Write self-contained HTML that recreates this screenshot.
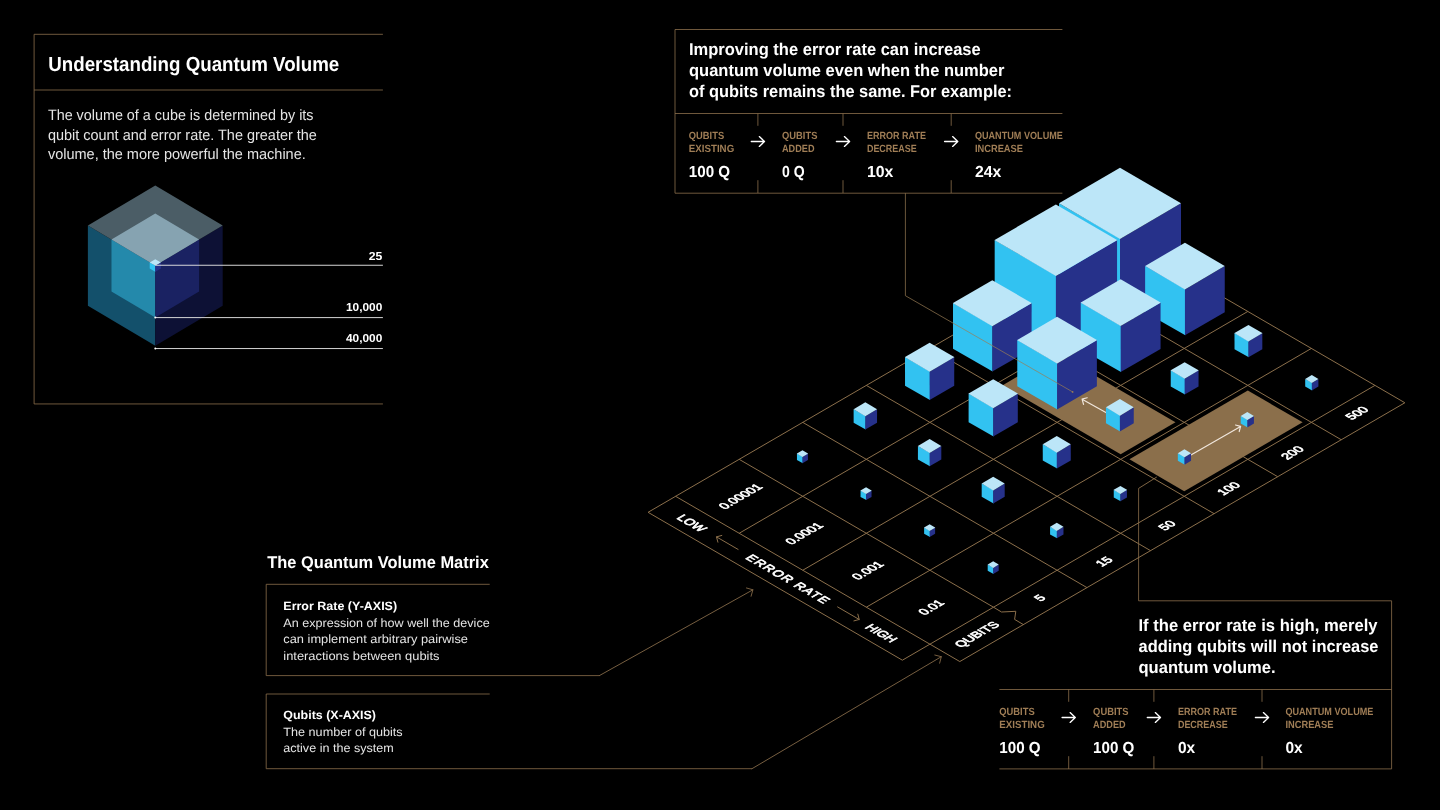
<!DOCTYPE html>
<html lang="en"><head><meta charset="utf-8"><title>Understanding Quantum Volume</title>
<style>
html,body{margin:0;padding:0;background:#000;}
body{width:1440px;height:810px;overflow:hidden;font-family:"Liberation Sans",sans-serif;}
svg{display:block;font-family:"Liberation Sans",sans-serif;}
</style></head><body>
<svg width="1440" height="810" viewBox="0 0 1440 810" text-rendering="geometricPrecision">
<rect width="1440" height="810" fill="#000"/>
<g id="panels">
<polyline points="382.9,34.3 34.1,34.3 34.1,403.95 382.9,403.95" fill="none" stroke="#8b6f4b" stroke-width="0.8"/>
<line x1="34.1" y1="90" x2="382.9" y2="90" stroke="#8b6f4b" stroke-width="0.8"/>
<text x="48.3" y="70.7" font-size="20.4" font-weight="bold" fill="#fff" textLength="291" lengthAdjust="spacingAndGlyphs">Understanding Quantum Volume</text>
<text x="47.9" y="120.3" font-size="15" fill="#e4e4e4" textLength="265.6" lengthAdjust="spacingAndGlyphs">The volume of a cube is determined by its</text>
<text x="47.9" y="139.7" font-size="15" fill="#e4e4e4" textLength="269" lengthAdjust="spacingAndGlyphs">qubit count and error rate. The greater the</text>
<text x="47.9" y="159.1" font-size="15" fill="#e4e4e4" textLength="257.9" lengthAdjust="spacingAndGlyphs">volume, the more powerful the machine.</text>
</g>
<g id="legend">
<polygon points="155.3,345.8 87.9,305.7 87.9,225.5 155.3,265.6" fill="#13506b"/>
<polygon points="155.3,345.8 222.7,305.7 222.7,225.5 155.3,265.6" fill="#0d1135"/>
<polygon points="155.3,265.6 87.9,225.5 155.3,185.4 222.7,225.5" fill="#4b5d66"/>
<polygon points="155.3,317.6 111.5,291.6 111.5,239.6 155.3,265.6" fill="#2489ab"/>
<polygon points="155.3,317.6 199.1,291.6 199.1,239.6 155.3,265.6" fill="#1a2262"/>
<polygon points="155.3,265.6 111.5,239.6 155.3,213.6 199.1,239.6" fill="#86a3b1"/>
<polygon points="155.3,271.7 149.7,268.6 149.7,262.4 155.3,265.5" fill="#32c2f1"/>
<polygon points="155.3,271.7 160.9,268.6 160.9,262.4 155.3,265.5" fill="#26318a"/>
<polygon points="155.3,265.5 149.7,262.4 155.3,259.3 160.9,262.4" fill="#bce6f8"/>
<line x1="155.3" y1="265.25" x2="382.9" y2="265.25" stroke="#e0e0e0" stroke-width="0.95"/>
<line x1="155.3" y1="317.6" x2="382.9" y2="317.6" stroke="#e0e0e0" stroke-width="0.95"/>
<line x1="155.3" y1="348.55" x2="382.9" y2="348.55" stroke="#e0e0e0" stroke-width="0.95"/>
<circle cx="155.3" cy="317.6" r="1" fill="#fff"/>
<circle cx="155.3" cy="348.6" r="1" fill="#fff"/>
<text x="368.7" y="259.6" font-size="11.5" font-weight="bold" fill="#fff" textLength="13.6" lengthAdjust="spacingAndGlyphs">25</text>
<text x="346" y="311" font-size="11.5" font-weight="bold" fill="#fff" textLength="36.3" lengthAdjust="spacingAndGlyphs">10,000</text>
<text x="346" y="342" font-size="11.5" font-weight="bold" fill="#fff" textLength="36.3" lengthAdjust="spacingAndGlyphs">40,000</text>
</g>
<g id="panels2">
<polyline points="1062.4,29.5 675,29.5 675,193.2 1062.4,193.2" fill="none" stroke="#8b6f4b" stroke-width="0.8"/>
<line x1="675" y1="113.5" x2="1062.4" y2="113.5" stroke="#8b6f4b" stroke-width="0.8"/>
<text x="689" y="55.4" font-size="17" font-weight="bold" fill="#fff" textLength="291.7" lengthAdjust="spacingAndGlyphs">Improving the error rate can increase</text>
<text x="689" y="76.1" font-size="17" font-weight="bold" fill="#fff" textLength="315.4" lengthAdjust="spacingAndGlyphs">quantum volume even when the number</text>
<text x="689" y="96.8" font-size="17" font-weight="bold" fill="#fff" textLength="323" lengthAdjust="spacingAndGlyphs">of qubits remains the same. For example:</text>
<line x1="757.9" y1="113.5" x2="757.9" y2="125.8" stroke="#8b6f4b" stroke-width="0.8"/>
<line x1="757.9" y1="180.2" x2="757.9" y2="193" stroke="#8b6f4b" stroke-width="0.8"/>
<path d="M751.3 141.5H764.5M759.3 136.6L764.5 141.5L759.3 146.4" fill="none" stroke="#fff" stroke-width="1.35" stroke-linecap="round" stroke-linejoin="round"/>
<line x1="843" y1="113.5" x2="843" y2="125.8" stroke="#8b6f4b" stroke-width="0.8"/>
<line x1="843" y1="180.2" x2="843" y2="193" stroke="#8b6f4b" stroke-width="0.8"/>
<path d="M836.4 141.5H849.6M844.4 136.6L849.6 141.5L844.4 146.4" fill="none" stroke="#fff" stroke-width="1.35" stroke-linecap="round" stroke-linejoin="round"/>
<line x1="951.2" y1="113.5" x2="951.2" y2="125.8" stroke="#8b6f4b" stroke-width="0.8"/>
<line x1="951.2" y1="180.2" x2="951.2" y2="193" stroke="#8b6f4b" stroke-width="0.8"/>
<path d="M944.6 141.5H957.8M952.6 136.6L957.8 141.5L952.6 146.4" fill="none" stroke="#fff" stroke-width="1.35" stroke-linecap="round" stroke-linejoin="round"/>
<text x="688.8" y="139" font-size="10.4" font-weight="bold" fill="#a07e56" textLength="35.4" lengthAdjust="spacingAndGlyphs">QUBITS</text>
<text x="688.8" y="152" font-size="10.4" font-weight="bold" fill="#a07e56" textLength="45.4" lengthAdjust="spacingAndGlyphs">EXISTING</text>
<text x="688.8" y="176.9" font-size="16" font-weight="bold" fill="#fff" textLength="41.3" lengthAdjust="spacingAndGlyphs">100 Q</text>
<text x="782" y="139" font-size="10.4" font-weight="bold" fill="#a07e56" textLength="35.4" lengthAdjust="spacingAndGlyphs">QUBITS</text>
<text x="782" y="152" font-size="10.4" font-weight="bold" fill="#a07e56" textLength="32.5" lengthAdjust="spacingAndGlyphs">ADDED</text>
<text x="782" y="176.9" font-size="16" font-weight="bold" fill="#fff" textLength="22.6" lengthAdjust="spacingAndGlyphs">0 Q</text>
<text x="866.9" y="139" font-size="10.4" font-weight="bold" fill="#a07e56" textLength="59.1" lengthAdjust="spacingAndGlyphs">ERROR RATE</text>
<text x="866.9" y="152" font-size="10.4" font-weight="bold" fill="#a07e56" textLength="49.9" lengthAdjust="spacingAndGlyphs">DECREASE</text>
<text x="866.9" y="176.9" font-size="16" font-weight="bold" fill="#fff" textLength="26.4" lengthAdjust="spacingAndGlyphs">10x</text>
<text x="974.9" y="139" font-size="10.4" font-weight="bold" fill="#a07e56" textLength="88" lengthAdjust="spacingAndGlyphs">QUANTUM VOLUME</text>
<text x="974.9" y="152" font-size="10.4" font-weight="bold" fill="#a07e56" textLength="48.1" lengthAdjust="spacingAndGlyphs">INCREASE</text>
<text x="974.9" y="176.9" font-size="16" font-weight="bold" fill="#fff" textLength="26.4" lengthAdjust="spacingAndGlyphs">24x</text>
<polyline points="1138.6,488.4 1138.6,600.8 1391.6,600.8 1391.6,768.9 999.4,768.9" fill="none" stroke="#8b6f4b" stroke-width="0.8"/>
<line x1="1138.6" y1="488.4" x2="1156.8" y2="477" stroke="#8b6f4b" stroke-width="0.9"/>
<line x1="999.4" y1="689.5" x2="1391.6" y2="689.5" stroke="#8b6f4b" stroke-width="0.8"/>
<text x="1138.5" y="630.7" font-size="17" font-weight="bold" fill="#fff" textLength="239" lengthAdjust="spacingAndGlyphs">If the error rate is high, merely</text>
<text x="1138.5" y="651.7" font-size="17" font-weight="bold" fill="#fff" textLength="240" lengthAdjust="spacingAndGlyphs">adding qubits will not increase</text>
<text x="1138.5" y="672.7" font-size="17" font-weight="bold" fill="#fff" textLength="137.1" lengthAdjust="spacingAndGlyphs">quantum volume.</text>
<line x1="1068.7" y1="689.5" x2="1068.7" y2="701.8" stroke="#8b6f4b" stroke-width="0.8"/>
<line x1="1068.7" y1="756.2" x2="1068.7" y2="769" stroke="#8b6f4b" stroke-width="0.8"/>
<path d="M1062.1 717.5H1075.3M1070.1 712.6L1075.3 717.5L1070.1 722.4" fill="none" stroke="#fff" stroke-width="1.35" stroke-linecap="round" stroke-linejoin="round"/>
<line x1="1153.9" y1="689.5" x2="1153.9" y2="701.8" stroke="#8b6f4b" stroke-width="0.8"/>
<line x1="1153.9" y1="756.2" x2="1153.9" y2="769" stroke="#8b6f4b" stroke-width="0.8"/>
<path d="M1147.3 717.5H1160.5M1155.3 712.6L1160.5 717.5L1155.3 722.4" fill="none" stroke="#fff" stroke-width="1.35" stroke-linecap="round" stroke-linejoin="round"/>
<line x1="1262" y1="689.5" x2="1262" y2="701.8" stroke="#8b6f4b" stroke-width="0.8"/>
<line x1="1262" y1="756.2" x2="1262" y2="769" stroke="#8b6f4b" stroke-width="0.8"/>
<path d="M1255.4 717.5H1268.6M1263.4 712.6L1268.6 717.5L1263.4 722.4" fill="none" stroke="#fff" stroke-width="1.35" stroke-linecap="round" stroke-linejoin="round"/>
<text x="999.3" y="715" font-size="10.4" font-weight="bold" fill="#a07e56" textLength="35.4" lengthAdjust="spacingAndGlyphs">QUBITS</text>
<text x="999.3" y="728" font-size="10.4" font-weight="bold" fill="#a07e56" textLength="45.4" lengthAdjust="spacingAndGlyphs">EXISTING</text>
<text x="999.3" y="752.9" font-size="16" font-weight="bold" fill="#fff" textLength="41.3" lengthAdjust="spacingAndGlyphs">100 Q</text>
<text x="1093.1" y="715" font-size="10.4" font-weight="bold" fill="#a07e56" textLength="35.4" lengthAdjust="spacingAndGlyphs">QUBITS</text>
<text x="1093.1" y="728" font-size="10.4" font-weight="bold" fill="#a07e56" textLength="32.5" lengthAdjust="spacingAndGlyphs">ADDED</text>
<text x="1093.1" y="752.9" font-size="16" font-weight="bold" fill="#fff" textLength="41.3" lengthAdjust="spacingAndGlyphs">100 Q</text>
<text x="1177.9" y="715" font-size="10.4" font-weight="bold" fill="#a07e56" textLength="59.1" lengthAdjust="spacingAndGlyphs">ERROR RATE</text>
<text x="1177.9" y="728" font-size="10.4" font-weight="bold" fill="#a07e56" textLength="49.9" lengthAdjust="spacingAndGlyphs">DECREASE</text>
<text x="1177.9" y="752.9" font-size="16" font-weight="bold" fill="#fff" textLength="17.2" lengthAdjust="spacingAndGlyphs">0x</text>
<text x="1285.4" y="715" font-size="10.4" font-weight="bold" fill="#a07e56" textLength="88" lengthAdjust="spacingAndGlyphs">QUANTUM VOLUME</text>
<text x="1285.4" y="728" font-size="10.4" font-weight="bold" fill="#a07e56" textLength="48.1" lengthAdjust="spacingAndGlyphs">INCREASE</text>
<text x="1285.4" y="752.9" font-size="16" font-weight="bold" fill="#fff" textLength="17.2" lengthAdjust="spacingAndGlyphs">0x</text>
<text x="267.3" y="568" font-size="17" font-weight="bold" fill="#fff" textLength="221.5" lengthAdjust="spacingAndGlyphs">The Quantum Volume Matrix</text>
<polyline points="489.7,584.3 266.2,584.3 266.2,675.6 599.4,675.6" fill="none" stroke="#8b6f4b" stroke-width="0.8"/>
<polyline points="489.7,694 266.2,694 266.2,768.7 752,768.7" fill="none" stroke="#8b6f4b" stroke-width="0.8"/>
<g stroke-linecap="round" stroke-linejoin="round">
<path d="M599.4 675.6L752.9 589.8M746.45 587.98L752.9 589.8L751.08 596.25" fill="none" stroke="#8b6f4b" stroke-width="0.85"/>
<path d="M752 768.7L941.3 656.7M934.81 655.04L941.3 656.7L939.64 663.19" fill="none" stroke="#8b6f4b" stroke-width="0.85"/>
</g>
<text x="283.3" y="609.5" font-size="12" font-weight="bold" fill="#fff" textLength="113.8" lengthAdjust="spacingAndGlyphs">Error Rate (Y-AXIS)</text>
<text x="283.3" y="626.6" font-size="12" fill="#e4e4e4" textLength="206.4" lengthAdjust="spacingAndGlyphs">An expression of how well the device</text>
<text x="283.3" y="643.3" font-size="12" fill="#e4e4e4" textLength="184.7" lengthAdjust="spacingAndGlyphs">can implement arbitrary pairwise</text>
<text x="283.3" y="660" font-size="12" fill="#e4e4e4" textLength="156.2" lengthAdjust="spacingAndGlyphs">interactions between qubits</text>
<text x="283.3" y="718.8" font-size="12" font-weight="bold" fill="#fff" textLength="92.7" lengthAdjust="spacingAndGlyphs">Qubits (X-AXIS)</text>
<text x="283.3" y="735.6" font-size="12" fill="#e4e4e4" textLength="119.4" lengthAdjust="spacingAndGlyphs">The number of qubits</text>
<text x="283.3" y="752.2" font-size="12" fill="#e4e4e4" textLength="110.4" lengthAdjust="spacingAndGlyphs">active in the system</text>
</g>
<g id="grid">
<line x1="648.07" y1="512.31" x2="1120.66" y2="237.51" stroke="#8b6f4b" stroke-width="1.0"/>
<line x1="739.18" y1="533.27" x2="1184.24" y2="274.48" stroke="#8b6f4b" stroke-width="1.0"/>
<line x1="802.76" y1="570.24" x2="1247.82" y2="311.45" stroke="#8b6f4b" stroke-width="1.0"/>
<line x1="866.34" y1="607.21" x2="1311.4" y2="348.42" stroke="#8b6f4b" stroke-width="1.0"/>
<line x1="902.39" y1="660.19" x2="1374.98" y2="385.39" stroke="#8b6f4b" stroke-width="1.0"/>
<line x1="959.8" y1="661.56" x2="1404.86" y2="402.77" stroke="#8b6f4b" stroke-width="1.0"/>
<line x1="648.07" y1="512.31" x2="902.39" y2="660.19" stroke="#8b6f4b" stroke-width="1.0"/>
<line x1="675.6" y1="496.3" x2="959.8" y2="661.56" stroke="#8b6f4b" stroke-width="1.0"/>
<line x1="739.18" y1="459.33" x2="993.5" y2="607.21" stroke="#8b6f4b" stroke-width="1.0"/>
<line x1="802.76" y1="422.36" x2="1086.96" y2="587.62" stroke="#8b6f4b" stroke-width="1.0"/>
<line x1="866.34" y1="385.39" x2="1150.54" y2="550.65" stroke="#8b6f4b" stroke-width="1.0"/>
<line x1="929.92" y1="348.42" x2="1214.12" y2="513.68" stroke="#8b6f4b" stroke-width="1.0"/>
<line x1="993.5" y1="311.45" x2="1277.7" y2="476.71" stroke="#8b6f4b" stroke-width="1.0"/>
<line x1="1057.08" y1="274.48" x2="1341.28" y2="439.74" stroke="#8b6f4b" stroke-width="1.0"/>
<line x1="1120.66" y1="237.51" x2="1404.86" y2="402.77" stroke="#8b6f4b" stroke-width="1.0"/>
<polyline points="993.5,607.21 1001.5,612 1015.8,611.3 1014.6,619.4 1023.38,624.59" fill="none" stroke="#8b6f4b" stroke-width="1.0"/>
<polygon points="1002.27,385.39 1057.08,353.52 1175.47,422.36 1120.66,454.23" fill="#8b6f4b"/>
<polygon points="1129.43,459.33 1247.82,390.49 1302.63,422.36 1184.24,491.2" fill="#8b6f4b"/>
</g>
<g id="arrows2" stroke-linecap="round" stroke-linejoin="round">
<path d="M1105.9 412.6L1082.1 399.2M1083.53 404.3L1082.1 399.2L1087.2 397.77" fill="none" stroke="#f0e6dc" stroke-width="1.2"/>
<path d="M1190.9 455L1240.6 426.4M1235.48 425.02L1240.6 426.4L1239.22 431.52" fill="none" stroke="#f0e6dc" stroke-width="1.2"/>
</g>
<g id="cubes">
<polygon points="1120.35,309.55 1059,274.08 1059,203.14 1120.35,238.61" fill="#32c2f1"/>
<polygon points="1120,309.55 1181,274.08 1181,203.14 1120,238.96" fill="#26318a"/>
<polygon points="1120,238.96 1059,203.32 1059,203.14 1120,167.67 1181,203.14 1181,203.32" fill="#bce6f8"/>
<polygon points="1056.23,346.74 994.68,311.15 994.68,239.98 1056.23,275.56" fill="#32c2f1"/>
<polygon points="1055.88,346.74 1117.08,311.15 1117.08,239.98 1055.88,275.91" fill="#26318a"/>
<polygon points="1055.88,275.91 994.68,240.15 994.68,239.98 1055.88,204.39 1117.08,239.98 1117.08,240.15" fill="#bce6f8"/>
<polygon points="1185.29,335.34 1145.14,312.2 1145.14,265.91 1185.29,289.06" fill="#32c2f1"/>
<polygon points="1184.94,335.34 1224.74,312.2 1224.74,265.91 1184.94,289.41" fill="#26318a"/>
<polygon points="1184.94,289.41 1145.14,266.09 1145.14,265.91 1184.94,242.77 1224.74,265.91 1224.74,266.09" fill="#bce6f8"/>
<polygon points="992.65,371.57 953,348.72 953,303.02 992.65,325.87" fill="#32c2f1"/>
<polygon points="992.3,371.57 1031.6,348.72 1031.6,303.02 992.3,326.22" fill="#26318a"/>
<polygon points="992.3,326.22 953,303.19 953,303.02 992.3,280.16 1031.6,303.02 1031.6,303.19" fill="#bce6f8"/>
<polygon points="1121.01,372.12 1080.76,348.92 1080.76,302.52 1121.01,325.72" fill="#32c2f1"/>
<polygon points="1120.66,372.12 1160.56,348.92 1160.56,302.52 1120.66,326.07" fill="#26318a"/>
<polygon points="1120.66,326.07 1080.76,302.69 1080.76,302.52 1120.66,279.32 1160.56,302.52 1160.56,302.69" fill="#bce6f8"/>
<polygon points="1248.77,357.25 1234.52,349.17 1234.52,333.01 1248.77,341.09" fill="#32c2f1"/>
<polygon points="1248.42,357.25 1262.32,349.17 1262.32,333.01 1248.42,341.44" fill="#26318a"/>
<polygon points="1248.42,341.44 1234.52,333.18 1234.52,333.01 1248.42,324.92 1262.32,333.01 1262.32,333.18" fill="#bce6f8"/>
<polygon points="929.97,399.99 905.02,385.69 905.02,357.08 929.97,371.39" fill="#32c2f1"/>
<polygon points="929.62,399.99 954.22,385.69 954.22,357.08 929.62,371.74" fill="#26318a"/>
<polygon points="929.62,371.74 905.02,357.26 905.02,357.08 929.62,342.78 954.22,357.08 954.22,357.26" fill="#bce6f8"/>
<polygon points="1057.43,409.43 1017.28,386.29 1017.28,340 1057.43,363.15" fill="#32c2f1"/>
<polygon points="1057.08,409.43 1096.88,386.29 1096.88,340 1057.08,363.5" fill="#26318a"/>
<polygon points="1057.08,363.5 1017.28,340.18 1017.28,340 1057.08,316.86 1096.88,340 1096.88,340.18" fill="#bce6f8"/>
<polygon points="1184.99,394.57 1170.74,386.49 1170.74,370.33 1184.99,378.41" fill="#32c2f1"/>
<polygon points="1184.64,394.57 1198.54,386.49 1198.54,370.33 1184.64,378.76" fill="#26318a"/>
<polygon points="1184.64,378.76 1170.74,370.5 1170.74,370.33 1184.64,362.24 1198.54,370.33 1198.54,370.5" fill="#bce6f8"/>
<polygon points="1312.15,390.43 1305.2,386.59 1305.2,378.91 1312.15,382.75" fill="#32c2f1"/>
<polygon points="1311.8,390.43 1318.4,386.59 1318.4,378.91 1311.8,383.1" fill="#26318a"/>
<polygon points="1311.8,383.1 1305.2,379.09 1305.2,378.91 1311.8,375.08 1318.4,378.91 1318.4,379.09" fill="#bce6f8"/>
<polygon points="993.55,436.51 968.6,422.21 968.6,393.6 993.55,407.91" fill="#32c2f1"/>
<polygon points="993.2,436.51 1017.8,422.21 1017.8,393.6 993.2,408.26" fill="#26318a"/>
<polygon points="993.2,408.26 968.6,393.78 968.6,393.6 993.2,379.3 1017.8,393.6 1017.8,393.78" fill="#bce6f8"/>
<polygon points="865.69,429.56 853.64,422.76 853.64,409.15 865.69,415.96" fill="#32c2f1"/>
<polygon points="865.34,429.56 877.04,422.76 877.04,409.15 865.34,416.31" fill="#26318a"/>
<polygon points="865.34,416.31 853.64,409.33 853.64,409.15 865.34,402.35 877.04,409.15 877.04,409.33" fill="#bce6f8"/>
<polygon points="1120.21,431.44 1105.96,423.36 1105.96,407.2 1120.21,415.28" fill="#32c2f1"/>
<polygon points="1119.86,431.44 1133.76,423.36 1133.76,407.2 1119.86,415.63" fill="#26318a"/>
<polygon points="1119.86,415.63 1105.96,407.37 1105.96,407.2 1119.86,399.11 1133.76,407.2 1133.76,407.37" fill="#bce6f8"/>
<polygon points="1247.67,427.4 1240.72,423.56 1240.72,415.88 1247.67,419.72" fill="#32c2f1"/>
<polygon points="1247.32,427.4 1253.92,423.56 1253.92,415.88 1247.32,420.07" fill="#26318a"/>
<polygon points="1247.32,420.07 1240.72,416.06 1240.72,415.88 1247.32,412.05 1253.92,415.88 1253.92,416.06" fill="#bce6f8"/>
<polygon points="929.97,466.33 917.92,459.53 917.92,445.92 929.97,452.73" fill="#32c2f1"/>
<polygon points="929.62,466.33 941.32,459.53 941.32,445.92 929.62,453.08" fill="#26318a"/>
<polygon points="929.62,453.08 917.92,446.1 917.92,445.92 929.62,439.12 941.32,445.92 941.32,446.1" fill="#bce6f8"/>
<polygon points="802.81,463.13 796.96,459.93 796.96,453.53 802.81,456.73" fill="#32c2f1"/>
<polygon points="802.46,463.13 807.96,459.93 807.96,453.53 802.46,457.08" fill="#26318a"/>
<polygon points="802.46,457.08 796.96,453.71 796.96,453.53 802.46,450.34 807.96,453.53 807.96,453.71" fill="#bce6f8"/>
<polygon points="1057.13,468.57 1042.78,460.43 1042.78,444.15 1057.13,452.29" fill="#32c2f1"/>
<polygon points="1056.78,468.57 1070.78,460.43 1070.78,444.15 1056.78,452.64" fill="#26318a"/>
<polygon points="1056.78,452.64 1042.78,444.32 1042.78,444.15 1056.78,436.01 1070.78,444.15 1070.78,444.32" fill="#bce6f8"/>
<polygon points="1184.79,464.67 1177.84,460.83 1177.84,453.15 1184.79,456.99" fill="#32c2f1"/>
<polygon points="1184.44,464.67 1191.04,460.83 1191.04,453.15 1184.44,457.34" fill="#26318a"/>
<polygon points="1184.44,457.34 1177.84,453.33 1177.84,453.15 1184.44,449.32 1191.04,453.15 1191.04,453.33" fill="#bce6f8"/>
<polygon points="993.55,503.49 981.7,496.8 981.7,483.43 993.55,490.11" fill="#32c2f1"/>
<polygon points="993.2,503.49 1004.7,496.8 1004.7,483.43 993.2,490.46" fill="#26318a"/>
<polygon points="993.2,490.46 981.7,483.6 981.7,483.43 993.2,476.74 1004.7,483.43 1004.7,483.6" fill="#bce6f8"/>
<polygon points="866.39,500.1 860.54,496.9 860.54,490.5 866.39,493.7" fill="#32c2f1"/>
<polygon points="866.04,500.1 871.54,496.9 871.54,490.5 866.04,494.05" fill="#26318a"/>
<polygon points="866.04,494.05 860.54,490.68 860.54,490.5 866.04,487.31 871.54,490.5 871.54,490.68" fill="#bce6f8"/>
<polygon points="1120.71,501.34 1113.76,497.5 1113.76,489.82 1120.71,493.66" fill="#32c2f1"/>
<polygon points="1120.36,501.34 1126.96,497.5 1126.96,489.82 1120.36,494.01" fill="#26318a"/>
<polygon points="1120.36,494.01 1113.76,490 1113.76,489.82 1120.36,485.99 1126.96,489.82 1126.96,490" fill="#bce6f8"/>
<polygon points="929.97,537.07 924.12,533.87 924.12,527.47 929.97,530.67" fill="#32c2f1"/>
<polygon points="929.62,537.07 935.12,533.87 935.12,527.47 929.62,531.02" fill="#26318a"/>
<polygon points="929.62,531.02 924.12,527.65 924.12,527.47 929.62,524.28 935.12,527.47 935.12,527.65" fill="#bce6f8"/>
<polygon points="1057.13,538.37 1050.08,534.47 1050.08,526.68 1057.13,530.57" fill="#32c2f1"/>
<polygon points="1056.78,538.37 1063.48,534.47 1063.48,526.68 1056.78,530.92" fill="#26318a"/>
<polygon points="1056.78,530.92 1050.08,526.85 1050.08,526.68 1056.78,522.78 1063.48,526.68 1063.48,526.85" fill="#bce6f8"/>
<polygon points="993.55,574.04 987.7,570.84 987.7,564.44 993.55,567.64" fill="#32c2f1"/>
<polygon points="993.2,574.04 998.7,570.84 998.7,564.44 993.2,567.99" fill="#26318a"/>
<polygon points="993.2,567.99 987.7,564.62 987.7,564.44 993.2,561.25 998.7,564.44 998.7,564.62" fill="#bce6f8"/>
</g>
<g id="isolabels" font-family="'Liberation Sans', sans-serif" stroke="#fff" stroke-width="0.75" stroke-linejoin="round">
<text transform="matrix(0.8660 -0.5000 0.8660 0.5000 744.19 498.52)" font-size="12.3" text-anchor="middle" fill="#fff">0.00001</text>
<text transform="matrix(0.8660 -0.5000 0.8660 0.5000 807.77 535.49)" font-size="12.3" text-anchor="middle" fill="#fff">0.0001</text>
<text transform="matrix(0.8660 -0.5000 0.8660 0.5000 871.35 572.46)" font-size="12.3" text-anchor="middle" fill="#fff">0.001</text>
<text transform="matrix(0.8660 -0.5000 0.8660 0.5000 934.93 609.43)" font-size="12.3" text-anchor="middle" fill="#fff">0.01</text>
<text transform="matrix(0.8660 -0.5000 0.8660 0.5000 1043.55 600.03)" font-size="12.3" text-anchor="middle" fill="#fff">5</text>
<text transform="matrix(0.8660 -0.5000 0.8660 0.5000 1107.63 563.66)" font-size="12.3" text-anchor="middle" fill="#fff">15</text>
<text transform="matrix(0.8660 -0.5000 0.8660 0.5000 1170.71 527.59)" font-size="12.3" text-anchor="middle" fill="#fff">50</text>
<text transform="matrix(0.8660 -0.5000 0.8660 0.5000 1232.19 490.62)" font-size="12.3" text-anchor="middle" fill="#fff">100</text>
<text transform="matrix(0.8660 -0.5000 0.8660 0.5000 1296.07 454.75)" font-size="12.3" text-anchor="middle" fill="#fff">200</text>
<text transform="matrix(0.8660 -0.5000 0.8660 0.5000 1360.65 415.18)" font-size="12.3" text-anchor="middle" fill="#fff">500</text>
<text transform="matrix(0.8660 -0.5000 0.8660 0.5000 980.47 636.6)" font-size="12.3" text-anchor="middle" fill="#fff">QUBITS</text>
<text transform="matrix(0.8660 0.5000 -0.8660 0.5000 688.19 525.21)" font-size="12.3" text-anchor="middle" fill="#fff">LOW</text>
<text transform="matrix(0.8660 0.5000 -0.8660 0.5000 784.69 581.34)" font-size="12.3" text-anchor="middle" fill="#fff" letter-spacing="1.24">ERROR RATE</text>
<text transform="matrix(0.8660 0.5000 -0.8660 0.5000 877.66 635.38)" font-size="12.3" text-anchor="middle" fill="#fff">HIGH</text>
</g>
<g id="arrows" stroke-linecap="round" stroke-linejoin="round">
<path d="M738.1 549.43L716.48 536.86M717.89 542.17L716.48 536.86L721.8 535.45" fill="none" stroke="#8b6f4b" stroke-width="1.0"/>
<path d="M837.6 606.91L859.22 619.48M857.81 614.17L859.22 619.48L853.9 620.89" fill="none" stroke="#8b6f4b" stroke-width="1.0"/>
</g>
<g id="connectors" stroke-linejoin="round">
<polyline points="905.4,193.2 905.4,295.7 1072.6,391.9" fill="none" stroke="#9a7c55" stroke-width="0.7"/>
<circle cx="1072.6" cy="391.9" r="0.9" fill="#9a7c55"/>
</g>
</svg>
</body></html>
